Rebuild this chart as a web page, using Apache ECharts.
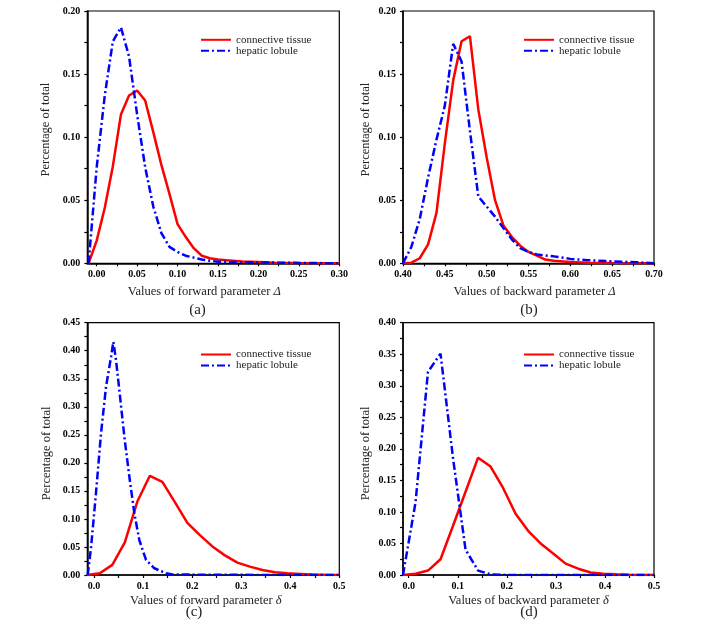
<!DOCTYPE html>
<html>
<head>
<meta charset="utf-8">
<script src="https://cdn.jsdelivr.net/npm/echarts@6/dist/echarts.min.js"></script>
<style>
html,body{margin:0;padding:0;background:#fff;}
#chart{width:718px;height:634px;}
</style>
</head>
<body>
<div id="chart"></div>
<script>
// ---------- Data ----------
var seriesNames = ['connective tissue', 'hepatic lobule'];
var captions = ['(a)', '(b)', '(c)', '(d)'];

// (a) forward parameter Δ
var aRedX  = [-0.01, 0.00, 0.01, 0.02, 0.03, 0.04, 0.05, 0.06, 0.07, 0.08, 0.09, 0.10, 0.11, 0.12, 0.13, 0.14, 0.15, 0.16, 0.18, 0.20, 0.22, 0.25, 0.30];
var aRedY  = [0, 0.018, 0.044, 0.077, 0.118, 0.133, 0.137, 0.129, 0.104, 0.078, 0.055, 0.031, 0.021, 0.012, 0.006, 0.004, 0.003, 0.0025, 0.0015, 0.001, 0.0005, 0.0002, 0];
var aBlueX = [-0.01, 0.00, 0.01, 0.02, 0.03, 0.04, 0.05, 0.06, 0.07, 0.08, 0.09, 0.10, 0.11, 0.12, 0.13, 0.14, 0.15, 0.17, 0.20, 0.25, 0.30];
var aBlueY = [0, 0.076, 0.133, 0.176, 0.187, 0.164, 0.118, 0.076, 0.045, 0.024, 0.013, 0.009, 0.006, 0.0045, 0.003, 0.002, 0.0013, 0.001, 0.0007, 0.0003, 0];

// (b) backward parameter Δ
var bRedX  = [0.40, 0.41, 0.42, 0.43, 0.44, 0.45, 0.46, 0.47, 0.48, 0.49, 0.50, 0.51, 0.52, 0.53, 0.54, 0.55, 0.56, 0.57, 0.58, 0.60, 0.62, 0.65, 0.70];
var bRedY  = [0, 0.0005, 0.004, 0.015, 0.04, 0.095, 0.145, 0.176, 0.18, 0.122, 0.084, 0.05, 0.03, 0.021, 0.014, 0.009, 0.006, 0.003, 0.002, 0.001, 0.0005, 0.0002, 0];
var bBlueX = [0.40, 0.41, 0.42, 0.43, 0.44, 0.45, 0.46, 0.47, 0.48, 0.49, 0.50, 0.51, 0.52, 0.53, 0.54, 0.55, 0.56, 0.58, 0.60, 0.62, 0.65, 0.68, 0.70];
var bBlueY = [0, 0.013, 0.035, 0.068, 0.098, 0.125, 0.174, 0.16, 0.105, 0.053, 0.045, 0.037, 0.028, 0.019, 0.012, 0.009, 0.007, 0.0055, 0.0035, 0.0025, 0.0015, 0.0008, 0];

// (c) forward parameter δ
var cRedX  = [-0.0137, 0.0118, 0.0373, 0.0628, 0.0883, 0.1138, 0.1393, 0.1648, 0.1903, 0.2158, 0.2413, 0.2668, 0.2923, 0.3178, 0.3433, 0.3688, 0.3943, 0.4198, 0.4453, 0.47, 0.50];
var cRedY  = [0, 0.003, 0.018, 0.058, 0.131, 0.177, 0.166, 0.13, 0.093, 0.071, 0.051, 0.035, 0.022, 0.015, 0.009, 0.005, 0.003, 0.002, 0.001, 0.0005, 0];
var cBlueX = [-0.0128, -0.006, 0.004, 0.0143, 0.0245, 0.0347, 0.0394, 0.0448, 0.0516, 0.0618, 0.072, 0.0822, 0.0923, 0.106, 0.123, 0.147, 0.16, 0.25, 0.50];
var cBlueY = [0, 0.05, 0.146, 0.253, 0.336, 0.389, 0.416, 0.3835, 0.33, 0.2467, 0.1753, 0.11, 0.0624, 0.0268, 0.012, 0.003, 0.001, 0.0003, 0];

// (d) backward parameter δ
var dRedX  = [-0.0116, 0.0139, 0.0394, 0.0649, 0.0904, 0.1159, 0.1414, 0.1669, 0.1924, 0.2179, 0.2434, 0.2689, 0.2944, 0.3199, 0.3454, 0.3709, 0.3964, 0.4219, 0.45, 0.50];
var dRedY  = [0, 0.002, 0.007, 0.025, 0.078, 0.132, 0.186, 0.172, 0.138, 0.097, 0.07, 0.05, 0.034, 0.018, 0.01, 0.004, 0.002, 0.001, 0.0005, 0];
var dBlueX = [-0.0116, 0.0139, 0.0393, 0.0649, 0.0904, 0.1159, 0.1414, 0.1669, 0.20, 0.50];
var dBlueY = [0, 0.115, 0.322, 0.351, 0.185, 0.04, 0.007, 0.001, 0, 0];

// Axis ticks / labels
var aXLabels = [0.00, 0.05, 0.10, 0.15, 0.20, 0.25, 0.30];
var aXTicks  = [0, 0.025, 0.05, 0.075, 0.10, 0.125, 0.15, 0.175, 0.20, 0.225, 0.25, 0.275, 0.30];
var bXLabels = [0.40, 0.45, 0.50, 0.55, 0.60, 0.65, 0.70];
var bXTicks  = [0.40, 0.425, 0.45, 0.475, 0.50, 0.525, 0.55, 0.575, 0.60, 0.625, 0.65, 0.675, 0.70];
var cdXLabels = [0.0, 0.1, 0.2, 0.3, 0.4, 0.5];
var cdXTicks  = [0, 0.05, 0.1, 0.15, 0.2, 0.25, 0.3, 0.35, 0.4, 0.45, 0.5];

var xTitles = [
  '{n|Values of forward parameter }{i|Δ}',
  '{n|Values of backward parameter }{i|Δ}',
  '{n|Values of forward parameter }{i|δ}',
  '{n|Values of backward parameter }{i|δ}'
];
var yTitle = 'Percentage of total';

// ---------- Chart ----------
var pairs = function (xs, ys) { return xs.map(function (x, i) { return [x, ys[i]]; }); };
var SERIF = 'Liberation Serif, Times New Roman, serif';

var grids = [
  {left: 87.3, top: 11, width: 252, height: 252.3},
  {left: 403, top: 11, width: 251, height: 252.3},
  {left: 87.3, top: 322.7, width: 252, height: 252.3},
  {left: 403, top: 322.7, width: 251, height: 252.3}
];
var xCfg = [
  {min: -0.0116, max: 0.30, labels: aXLabels, ticks: aXTicks, dec: 2, gap: 21.5, pad: [0, 18, 0, 0]},
  {min: 0.40, max: 0.70, labels: bXLabels, ticks: bXTicks, dec: 2, gap: 21.5, pad: [0, 0, 0, 12]},
  {min: -0.0137, max: 0.50, labels: cdXLabels, ticks: cdXTicks, dec: 1, gap: 19.5, pad: [0, 15, 0, 0]},
  {min: -0.0116, max: 0.50, labels: cdXLabels, ticks: cdXTicks, dec: 1, gap: 19.5, pad: [0, 0, 0, 0]}
];
var yCfg = [
  {max: 0.20, gap: 35, pad: [0, 0, 0, 15]},
  {max: 0.20, gap: 31, pad: [0, 0, 0, 15]},
  {max: 0.45, gap: 34.5, pad: [0, 9, 0, 0]},
  {max: 0.40, gap: 31, pad: [0, 9, 0, 0]}
];
var data = [
  [pairs(aRedX, aRedY), pairs(aBlueX, aBlueY)],
  [pairs(bRedX, bRedY), pairs(bBlueX, bBlueY)],
  [pairs(cRedX, cRedY), pairs(cBlueX, cBlueY)],
  [pairs(dRedX, dRedY), pairs(dBlueX, dBlueY)]
];
var legendPos = [
  {left: 200, top: 34.3},
  {left: 523, top: 34.3},
  {left: 200, top: 349},
  {left: 523, top: 349}
];
var captionPos = [[197.5, 310], [529, 310], [194, 611.7], [529, 611.7]];

var option = {
  backgroundColor: '#fff',
  animation: false,
  grid: grids.map(function (g) {
    return Object.assign({show: true, borderColor: '#000', borderWidth: 1.2, backgroundColor: 'transparent'}, g);
  }),
  xAxis: xCfg.map(function (c, i) {
    return {
      type: 'value', gridIndex: i, min: c.min, max: c.max,
      axisLine: {show: true, onZero: false, lineStyle: {color: '#000', width: 1.5}},
      axisTick: {show: true, inside: false, length: 3, lineStyle: {color: '#000', width: 1.2}, customValues: c.ticks},
      axisLabel: {
        customValues: c.labels, margin: 6, color: '#000', fontFamily: SERIF, fontWeight: 'bold', fontSize: 10,
        formatter: (function (d) { return function (v) { return Number(v).toFixed(d); }; })(c.dec)
      },
      splitLine: {show: false},
      name: xTitles[i], nameLocation: 'middle', nameGap: c.gap,
      nameTextStyle: {
        padding: c.pad,
        rich: {
          n: {fontFamily: SERIF, fontSize: 12.5, color: '#222'},
          i: {fontFamily: SERIF, fontSize: 12.5, color: '#222', fontStyle: 'italic'}
        }
      }
    };
  }),
  yAxis: yCfg.map(function (c, i) {
    return {
      type: 'value', gridIndex: i, min: 0, max: c.max, interval: 0.05,
      axisLine: {show: true, onZero: false, lineStyle: {color: '#000', width: 1.5}},
      axisTick: {show: true, inside: false, length: 3, lineStyle: {color: '#000', width: 1.2}},
      minorTick: {show: true, splitNumber: 2, length: 3, lineStyle: {color: '#000', width: 1.2}},
      axisLabel: {
        margin: 7, color: '#000', fontFamily: SERIF, fontWeight: 'bold', fontSize: 10,
        formatter: function (v) { return Number(v).toFixed(2); }
      },
      splitLine: {show: false},
      name: yTitle, nameLocation: 'middle', nameGap: c.gap,
      nameTextStyle: {fontFamily: SERIF, fontSize: 12.5, color: '#222', padding: c.pad}
    };
  }),
  legend: legendPos.map(function (p) {
    return {
      left: p.left, top: p.top, orient: 'vertical', data: seriesNames,
      itemWidth: 30, itemHeight: 10, itemGap: 0, selectedMode: false,
      itemStyle: {opacity: 0},
      textStyle: {fontFamily: SERIF, fontSize: 11, color: '#222', lineHeight: 10}, padding: 0
    };
  }),
  graphic: captionPos.map(function (p, i) {
    return {type: 'text', x: p[0], y: p[1], style: {text: captions[i], fill: '#222', font: '15px ' + SERIF, textAlign: 'center', textVerticalAlign: 'middle'}};
  }),
  series: []
};

data.forEach(function (pair, i) {
  option.series.push({
    name: seriesNames[0], type: 'line', xAxisIndex: i, yAxisIndex: i, data: pair[0],
    symbol: 'none', lineStyle: {color: '#ff0000', width: 2.5, type: 'solid'}, itemStyle: {color: '#ff0000'}, z: 2
  });
  option.series.push({
    name: seriesNames[1], type: 'line', xAxisIndex: i, yAxisIndex: i, data: pair[1],
    symbol: 'none', lineStyle: {color: '#0000ff', width: 2.5, type: [8, 3, 2, 3]}, itemStyle: {color: '#0000ff'}, z: 3
  });
});

var chart = echarts.init(document.getElementById('chart'), null, {renderer: 'canvas'});
chart.setOption(option);
</script>
</body>
</html>
